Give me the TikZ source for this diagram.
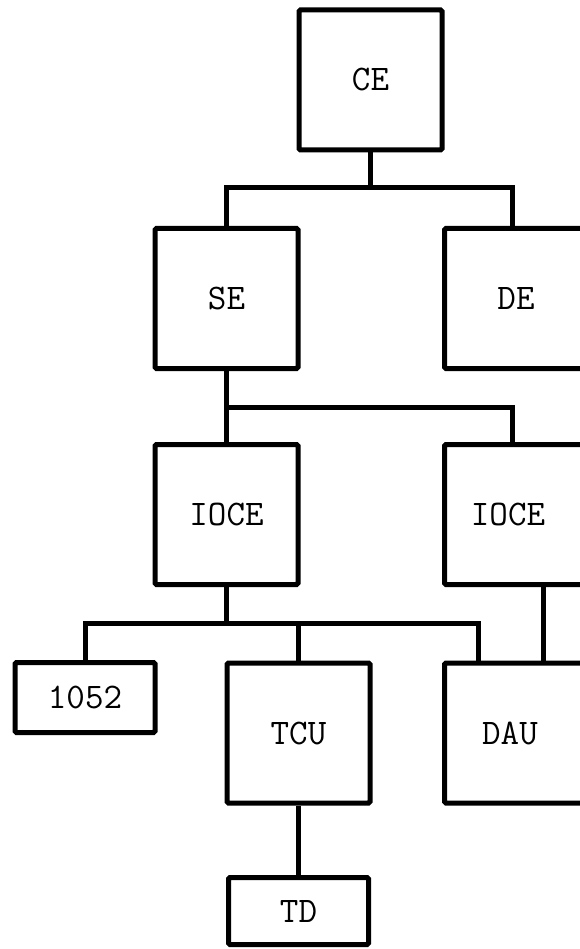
\documentclass[tikz,border=0pt]{standalone}
\begin{document}
\begin{tikzpicture}[x=1pt,y=-1pt,
  unit/.style={draw, line width=5pt, rounded corners=1.5pt, minimum width=143pt,
    minimum height=140pt, inner sep=0pt, font=\ttfamily\fontsize{36}{40}\selectfont},
  lowunit/.style={unit, minimum width=140pt, minimum height=67pt},
  wire/.style={line width=5pt}]

  % Page
  \clip (0,0) rectangle (580,949);
  \fill[white] (0,0) rectangle (580,949);

  % Units
  \node[unit] (CE)    at (370.5,80)  {CE};
  \node[unit] (SE)    at (226.5,298.5) {SE};
  \node[unit] (DE)    at (516,298.5) {DE};
  \node[unit] (IOCEa) at (226.5,514.5) {IOCE};
  \node[unit] (IOCEb) at (516,514.5) {\hspace*{-16pt}IOCE};
  \node[lowunit, minimum height=70pt] (N1052) at (85,697.5) {1052};
  \node[unit] (TCU)   at (298.5,733) {TCU};
  \node[unit] (DAU)   at (516,733)   {\hspace*{-12pt}DAU};
  \node[lowunit] (TD) at (298.5,911) {TD};

  % Bus points
  \coordinate (busA) at (370.5,188);
  \coordinate (busB) at (226.5,407);
  \coordinate (busC) at (226.5,623);
  \coordinate (tapB) at (543,0);

  % Connectors
  \draw[wire] (CE.south) -- (busA);
  \draw[wire] (SE.north) |- (busA) -| ([xshift=-4pt]DE.north);
  \draw[wire] (SE.south) -- (IOCEa.north);
  \draw[wire] (busB) -| ([xshift=-4pt]IOCEb.north);
  \draw[wire] (IOCEa.south) -- (busC);
  \draw[wire] (N1052.north) |- (busC) -| ([xshift=36.5pt]DAU.north west);
  \draw[wire] (busC -| TCU.north) -- (TCU.north);
  \draw[wire] (IOCEb.south -| tapB) -- (DAU.north -| tapB);
  \draw[wire] (TCU.south) -- (TD.north);

\end{tikzpicture}
\end{document}
